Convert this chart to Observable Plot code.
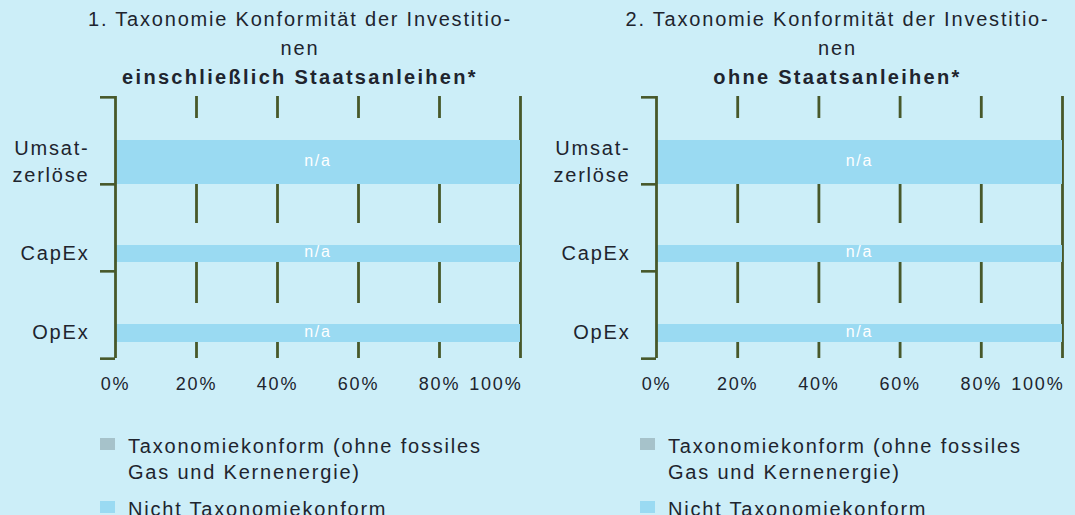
<!DOCTYPE html>
<html>
<head>
<meta charset="utf-8">
<script src="https://cdn.jsdelivr.net/npm/d3@7"></script>
<script src="https://cdn.jsdelivr.net/npm/@observablehq/plot@0.6"></script>
<style>
  html, body { margin: 0; padding: 0; background: #cceef8; }
  body { font-family: "Liberation Sans", Arial, sans-serif; color: #20242e; }
  #wrap { display: flex; width: 1075px; height: 515px; overflow: hidden; }
  .panel { position: relative; flex: none; }
  .title { box-sizing: border-box; height: 92px; padding-top: 5px; padding-left: 60px; text-align: center;
           font-size: 20px; line-height: 29px; letter-spacing: 1.8px; white-space: nowrap; }
  .title .sub { font-weight: bold; letter-spacing: 2.3px; }
  .chart svg text { letter-spacing: 1.8px; }
  .legend { margin-top: 35px; padding-left: 100px; font-size: 20px; line-height: 26px; letter-spacing: 1.8px; }
  .legend .item { position: relative; padding-left: 28px; margin-bottom: 11px; }
  .legend .sw { position: absolute; left: 0; top: 5px; width: 15px; height: 12px; }
</style>
</head>
<body>
<div id="wrap"></div>
<script>
// ---------- data ----------
const categories = ["Umsatzerlöse", "CapEx", "OpEx"];
const categoryLabels = ["Umsat-\nzerlöse", "CapEx", "OpEx"];
const alignedPct = [0, 0, 0];          // Taxonomiekonform (ohne fossiles Gas und Kernenergie)
const notAlignedPct = [100, 100, 100]; // Nicht Taxonomiekonform
const barLabels = ["n/a", "n/a", "n/a"];
const xTicks = [0, 20, 40, 60, 80, 100];
const panelTitleLines = [
  ["1. Taxonomie Konformität der Investitio-", "nen"],
  ["2. Taxonomie Konformität der Investitio-", "nen"]
];
const panelSubtitles = ["einschließlich Staatsanleihen*", "ohne Staatsanleihen*"];
const legendLabels = ["Taxonomiekonform (ohne fossiles\nGas und Kernenergie)", "Nicht Taxonomiekonform"];

// ---------- styles / layout ----------
const colors = { aligned: "#a6c2ca", notAligned: "#9adaf2", bg: "#cceef8", grid: "#47582a", text: "#20242e", barText: "#ffffff" };
const panelWidths = [540, 535];
const panelMargins = [{ left: 115, right: 20 }, { left: 116, right: 13 }];
const H = 306, MT = 4, MB = 40;
const bw = (H - MT - MB) / categories.length;
// per-category placement of the bar and of the blank strip above it inside each band (top, bottom insets in px)
const barInsets = { "Umsatzerlöse": [43, 0], "CapEx": [61, 9], "OpEx": [53, 16] };
const gapInsets = { "Umsatzerlöse": [21, 42], "CapEx": [39, 25], "OpEx": [32, 32] };

const rows = categories.map((c, i) => ({
  category: c, label: categoryLabels[i], aligned: alignedPct[i],
  notAligned: notAlignedPct[i], total: alignedPct[i] + notAlignedPct[i], text: barLabels[i]
}));

const wrap = document.getElementById("wrap");

panelWidths.forEach((W, p) => {
  const panel = document.createElement("div");
  panel.className = "panel";
  panel.style.width = W + "px";

  const title = document.createElement("div");
  title.className = "title";
  panelTitleLines[p].forEach(line => {
    const d = document.createElement("div"); d.textContent = line; title.appendChild(d);
  });
  const sub = document.createElement("div"); sub.className = "sub"; sub.textContent = panelSubtitles[p];
  title.appendChild(sub);
  panel.appendChild(title);

  const marks = [];
  // grid lines (interior)
  marks.push(Plot.ruleX(xTicks.filter(t => t > 0 && t < 100), { stroke: colors.grid, strokeWidth: 2.8 }));
  // blank strips above bars
  rows.forEach(r => {
    const [t, b] = gapInsets[r.category];
    marks.push(Plot.barX([r], { y: "category", x1: 0, x2: "total", fill: colors.bg, insetTop: t, insetBottom: b }));
  });
  // 100% line
  marks.push(Plot.ruleX(xTicks.filter(t => t === 100), { stroke: colors.grid, strokeWidth: 2.8 }));
  // bars: aligned + not aligned (stacked)
  rows.forEach(r => {
    const [t, b] = barInsets[r.category];
    marks.push(Plot.barX([r], { y: "category", x1: 0, x2: "aligned", fill: colors.aligned, insetTop: t, insetBottom: b }));
    marks.push(Plot.barX([r], { y: "category", x1: "aligned", x2: "total", fill: colors.notAligned, insetTop: t, insetBottom: b }));
    marks.push(Plot.text([r], { y: "category", x: d => d.total / 2, text: "text", fill: colors.barText,
      fontSize: 16, dy: (t - b) / 2 - 2 }));
    marks.push(Plot.text([r], { y: "category", text: "label", frameAnchor: "left", textAnchor: "end", dx: -26,
      fill: colors.text, fontSize: 20, lineHeight: 1.35, dy: (t - b) / 2 - 3 }));
  });
  // y axis line and category boundary ticks
  marks.push(Plot.ruleX([0], { stroke: colors.grid, strokeWidth: 2.8 }));
  marks.push(Plot.axisY({ ticks: categories, tickSize: 15, tickFormat: () => "", label: null, dy: -bw / 2, stroke: colors.grid, strokeWidth: 2.6 }));
  marks.push(Plot.axisY({ ticks: categories.slice(-1), tickSize: 15, tickFormat: () => "", label: null, dy: bw / 2, stroke: colors.grid, strokeWidth: 2.6 }));
  // x axis labels
  marks.push(Plot.axisX({ ticks: xTicks.filter(t => t < 100), tickFormat: d => d + "%", tickSize: 0, tickPadding: 19, fontSize: 18, fill: colors.text, label: null }));
  marks.push(Plot.axisX({ ticks: xTicks.filter(t => t === 100), tickFormat: d => d + "%", tickSize: 0, tickPadding: 19, fontSize: 18, fill: colors.text, textAnchor: "end", dx: 2, label: null }));

  const chart = Plot.plot({
    width: W, height: H,
    marginTop: MT, marginBottom: MB, marginLeft: panelMargins[p].left, marginRight: panelMargins[p].right,
    x: { domain: [0, 100] },
    y: { domain: categories, padding: 0 },
    style: { background: "transparent", fontFamily: "Liberation Sans, Arial, sans-serif", fontSize: "18px", color: colors.text, overflow: "visible" },
    marks
  });
  const chartDiv = document.createElement("div");
  chartDiv.className = "chart";
  chartDiv.appendChild(chart);
  panel.appendChild(chartDiv);

  const legend = document.createElement("div");
  legend.className = "legend";
  legendLabels.forEach((lab, i) => {
    const item = document.createElement("div");
    item.className = "item";
    const sw = document.createElement("span");
    sw.className = "sw";
    sw.style.background = i === 0 ? colors.aligned : colors.notAligned;
    item.appendChild(sw);
    lab.split("\n").forEach(line => {
      const d = document.createElement("div"); d.textContent = line; item.appendChild(d);
    });
    legend.appendChild(item);
  });
  panel.appendChild(legend);

  wrap.appendChild(panel);
});
</script>
</body>
</html>
